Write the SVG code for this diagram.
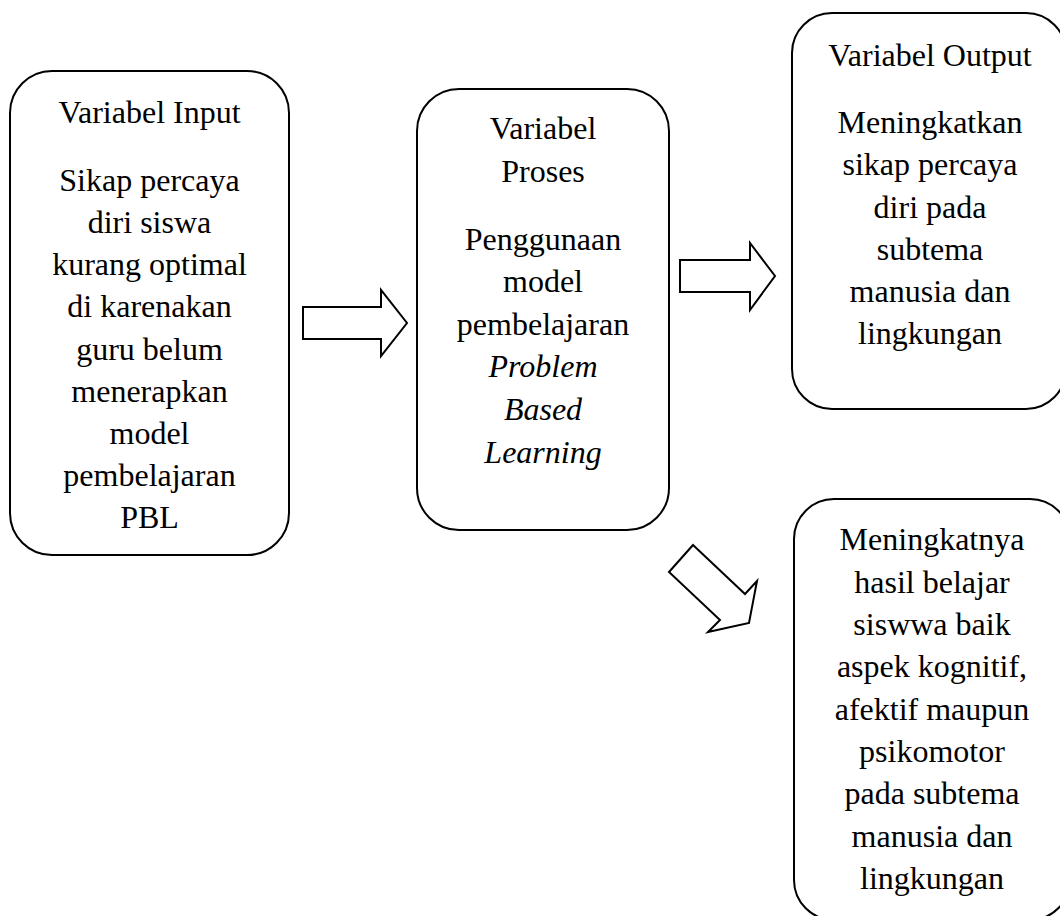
<svg xmlns="http://www.w3.org/2000/svg" width="1060" height="916" viewBox="0 0 1060 916">
<style>
.box{fill:#fff;stroke:#000;stroke-width:2}
.arr{fill:#fff;stroke:#000;stroke-width:2;stroke-linejoin:miter}
text{font-family:"Liberation Serif","Times New Roman",serif;font-size:32px;fill:#000;text-anchor:middle}
.it{font-style:italic}
</style>
<rect width="1060" height="916" fill="#fff"/>
<g id="connectors">
<polygon class="arr" points="303,307 381,307 381,290 407,323 381,356 381,339 303,339"/>
<polygon class="arr" points="680,260 750,260 750,243 775,276 750,310 750,292 680,292"/>
<polygon class="arr" points="693,545 745,594 757,581 749,623 708,632 720,620 669,572"/>
</g>
<g id="input">
<rect class="box" x="10" y="71" width="279" height="484" rx="42"/>
<text x="149.5" y="123">Variabel Input</text>
<text x="149.5" y="191">Sikap percaya</text>
<text x="149.5" y="233">diri siswa</text>
<text x="149.5" y="275">kurang optimal</text>
<text x="149.5" y="317">di karenakan</text>
<text x="149.5" y="360">guru belum</text>
<text x="149.5" y="402">menerapkan</text>
<text x="149.5" y="444">model</text>
<text x="149.5" y="486">pembelajaran</text>
<text x="149.5" y="528">PBL</text>
</g>
<g id="proses">
<rect class="box" x="417" y="89" width="252" height="441" rx="42"/>
<text x="543" y="139">Variabel</text>
<text x="543" y="182">Proses</text>
<text x="543" y="250">Penggunaan</text>
<text x="543" y="292">model</text>
<text x="543" y="335">pembelajaran</text>
<text x="543" y="377" class="it">Problem</text>
<text x="543" y="420" class="it">Based</text>
<text x="543" y="463" class="it">Learning</text>
</g>
<g id="output">
<rect class="box" x="792" y="13" width="274" height="396" rx="40"/>
<text x="930" y="66">Variabel Output</text>
<text x="930" y="133">Meningkatkan</text>
<text x="930" y="175">sikap percaya</text>
<text x="930" y="218">diri pada</text>
<text x="930" y="260">subtema</text>
<text x="930" y="302">manusia dan</text>
<text x="930" y="344">lingkungan</text>
</g>
<g id="hasil">
<rect class="box" x="794" y="499" width="276" height="421" rx="40"/>
<text x="932" y="550">Meningkatnya</text>
<text x="932" y="593">hasil belajar</text>
<text x="932" y="635">siswwa baik</text>
<text x="932" y="677">aspek kognitif,</text>
<text x="932" y="720">afektif maupun</text>
<text x="932" y="762">psikomotor</text>
<text x="932" y="804">pada subtema</text>
<text x="932" y="847">manusia dan</text>
<text x="932" y="889">lingkungan</text>
</g>
</svg>
